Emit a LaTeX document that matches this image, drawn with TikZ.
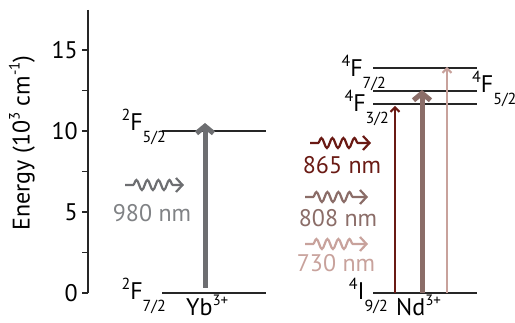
\documentclass[tikz,border=0pt]{standalone}
\usepackage{fontspec}
\setmainfont{PT Sans}
\usetikzlibrary{arrows.meta,decorations.pathmorphing}
\definecolor{ybgray}{HTML}{6D6E71}
\definecolor{ybtext}{HTML}{808285}
\definecolor{ndred}{HTML}{6A1A14}
\definecolor{ndmid}{HTML}{8B6D68}
\definecolor{ndpale}{HTML}{C8A29C}
\newcommand{\trm}[3]{\raisebox{0.42em}{\fontsize{16}{16}\selectfont #1}#2\raisebox{-0.5em}{\fontsize{16}{16}\selectfont #3}}
\newcommand{\ionlbl}[2]{#1\raisebox{0.42em}{\fontsize{15}{15}\selectfont #2}}
\begin{document}
\begin{tikzpicture}[x=1pt,y=-1pt,
  font=\fontsize{24}{24}\selectfont,
  lvl/.style={line width=2.2pt, black!85},
  axisline/.style={line width=2.2pt, black!85},
  tck/.style={line width=1.8pt, black!85},
  lbl/.style={inner sep=0pt},
  thickarr/.style={line width=5pt, -{Straight Barb[length=7pt,width=17pt]}},
  thinarr/.style={line width=2pt, -{Straight Barb[length=4.5pt,width=9pt]}},
  wave/.style={line width=2.2pt, decorate,
    decoration={snake, amplitude=5pt, segment length=11pt, pre length=8pt, post length=10pt},
    -{Straight Barb[length=6.5pt,width=14pt]}},
]
\useasboundingbox (0,0) rectangle (515,323);
% axis
\coordinate (atop) at (88,10);
\coordinate (abot) at (88,293);
\draw[axisline] (atop) -- (abot);
\foreach \y/\t in {50/15,131/10,212/5,293/0}{
  \draw[tck] (82,\y) -- (88,\y);
  \node[lbl, anchor=east] at (78,\y) {\t};
}
\foreach \y in {90.5,171.5,252.5}{\draw[tck] (82,\y) -- (88,\y);}
\node[lbl, rotate=90] (ylab) at (22,143) {Energy (10\raisebox{0.42em}{\fontsize{15}{15}\selectfont 3} cm\raisebox{0.42em}{\fontsize{15}{15}\selectfont -1})};

% Yb levels
\coordinate (yb5a) at (162,131); \coordinate (yb5b) at (266,131);
\coordinate (yb7a) at (162,293); \coordinate (yb7b) at (266,293);
\draw[lvl] (yb5a) -- (yb5b);
\draw[lvl] (yb7a) -- (yb7b);
\node[lbl, anchor=base east] (lyb5) at (166,131) {\trm{2}{F}{5/2}};
\node[lbl, anchor=base east] (lyb7) at (166,300) {\trm{2}{F}{7/2}};
\node[lbl, anchor=base west] (yb) at (186,316) {\ionlbl{Yb}{3+}};
\coordinate (ybs) at (205,288); \coordinate (ybe) at (205,123);
\draw[thickarr, ybgray] (ybs) -- (ybe);
\coordinate (w9s) at (125,185); \coordinate (w9e) at (184,185);
\draw[wave, ybgray] (w9s) -- (w9e);
\node[lbl, ybtext] (t980) at (152,213) {980 nm};

% Nd levels
\coordinate (f7a) at (373,68); \coordinate (f7b) at (477,68);
\coordinate (f5a) at (373,91); \coordinate (f5b) at (477,91);
\coordinate (f3a) at (373,104); \coordinate (f3b) at (477,104);
\coordinate (i9a) at (373,293); \coordinate (i9b) at (477,293);
\draw[lvl] (f7a) -- (f7b);
\draw[lvl] (f5a) -- (f5b);
\draw[lvl] (f3a) -- (f3b);
\draw[lvl] (i9a) -- (i9b);
\node[lbl, anchor=base east] (lf7) at (386,77) {\trm{4}{F}{7/2}};
\node[lbl, anchor=base east] (lf3) at (389,112) {\trm{4}{F}{3/2}};
\node[lbl, anchor=base east] (li9) at (388,300) {\trm{4}{I}{9/2}};
\node[lbl, anchor=base west] (lf5) at (472,93) {\trm{4}{F}{5/2}};
\node[lbl, anchor=base west] (nd) at (396,316) {\ionlbl{Nd}{3+}};

\coordinate (a1s) at (395,293); \coordinate (a1e) at (395,106);
\coordinate (a2s) at (422,293); \coordinate (a2e) at (422,90);
\coordinate (a3s) at (447,293); \coordinate (a3e) at (447,67);
\draw[thinarr, ndred] (a1s) -- (a1e);
\draw[thickarr, ndmid] (a2s) -- (a2e);
\draw[thinarr, ndpale] (a3s) -- (a3e);

\coordinate (w8s) at (310,143); \coordinate (w8e) at (371,143);
\draw[wave, ndred] (w8s) -- (w8e);
\node[lbl, ndred] (t865) at (342,165) {865 nm};
\coordinate (w7s) at (305,197); \coordinate (w7e) at (368,197);
\draw[wave, ndmid] (w7s) -- (w7e);
\node[lbl, ndmid] (t808) at (338,218) {808 nm};
\coordinate (w6s) at (305,244); \coordinate (w6e) at (368,244);
\draw[wave, ndpale] (w6s) -- (w6e);
\node[lbl, ndpale] (t730) at (336,263) {730 nm};
\end{tikzpicture}
\end{document}
